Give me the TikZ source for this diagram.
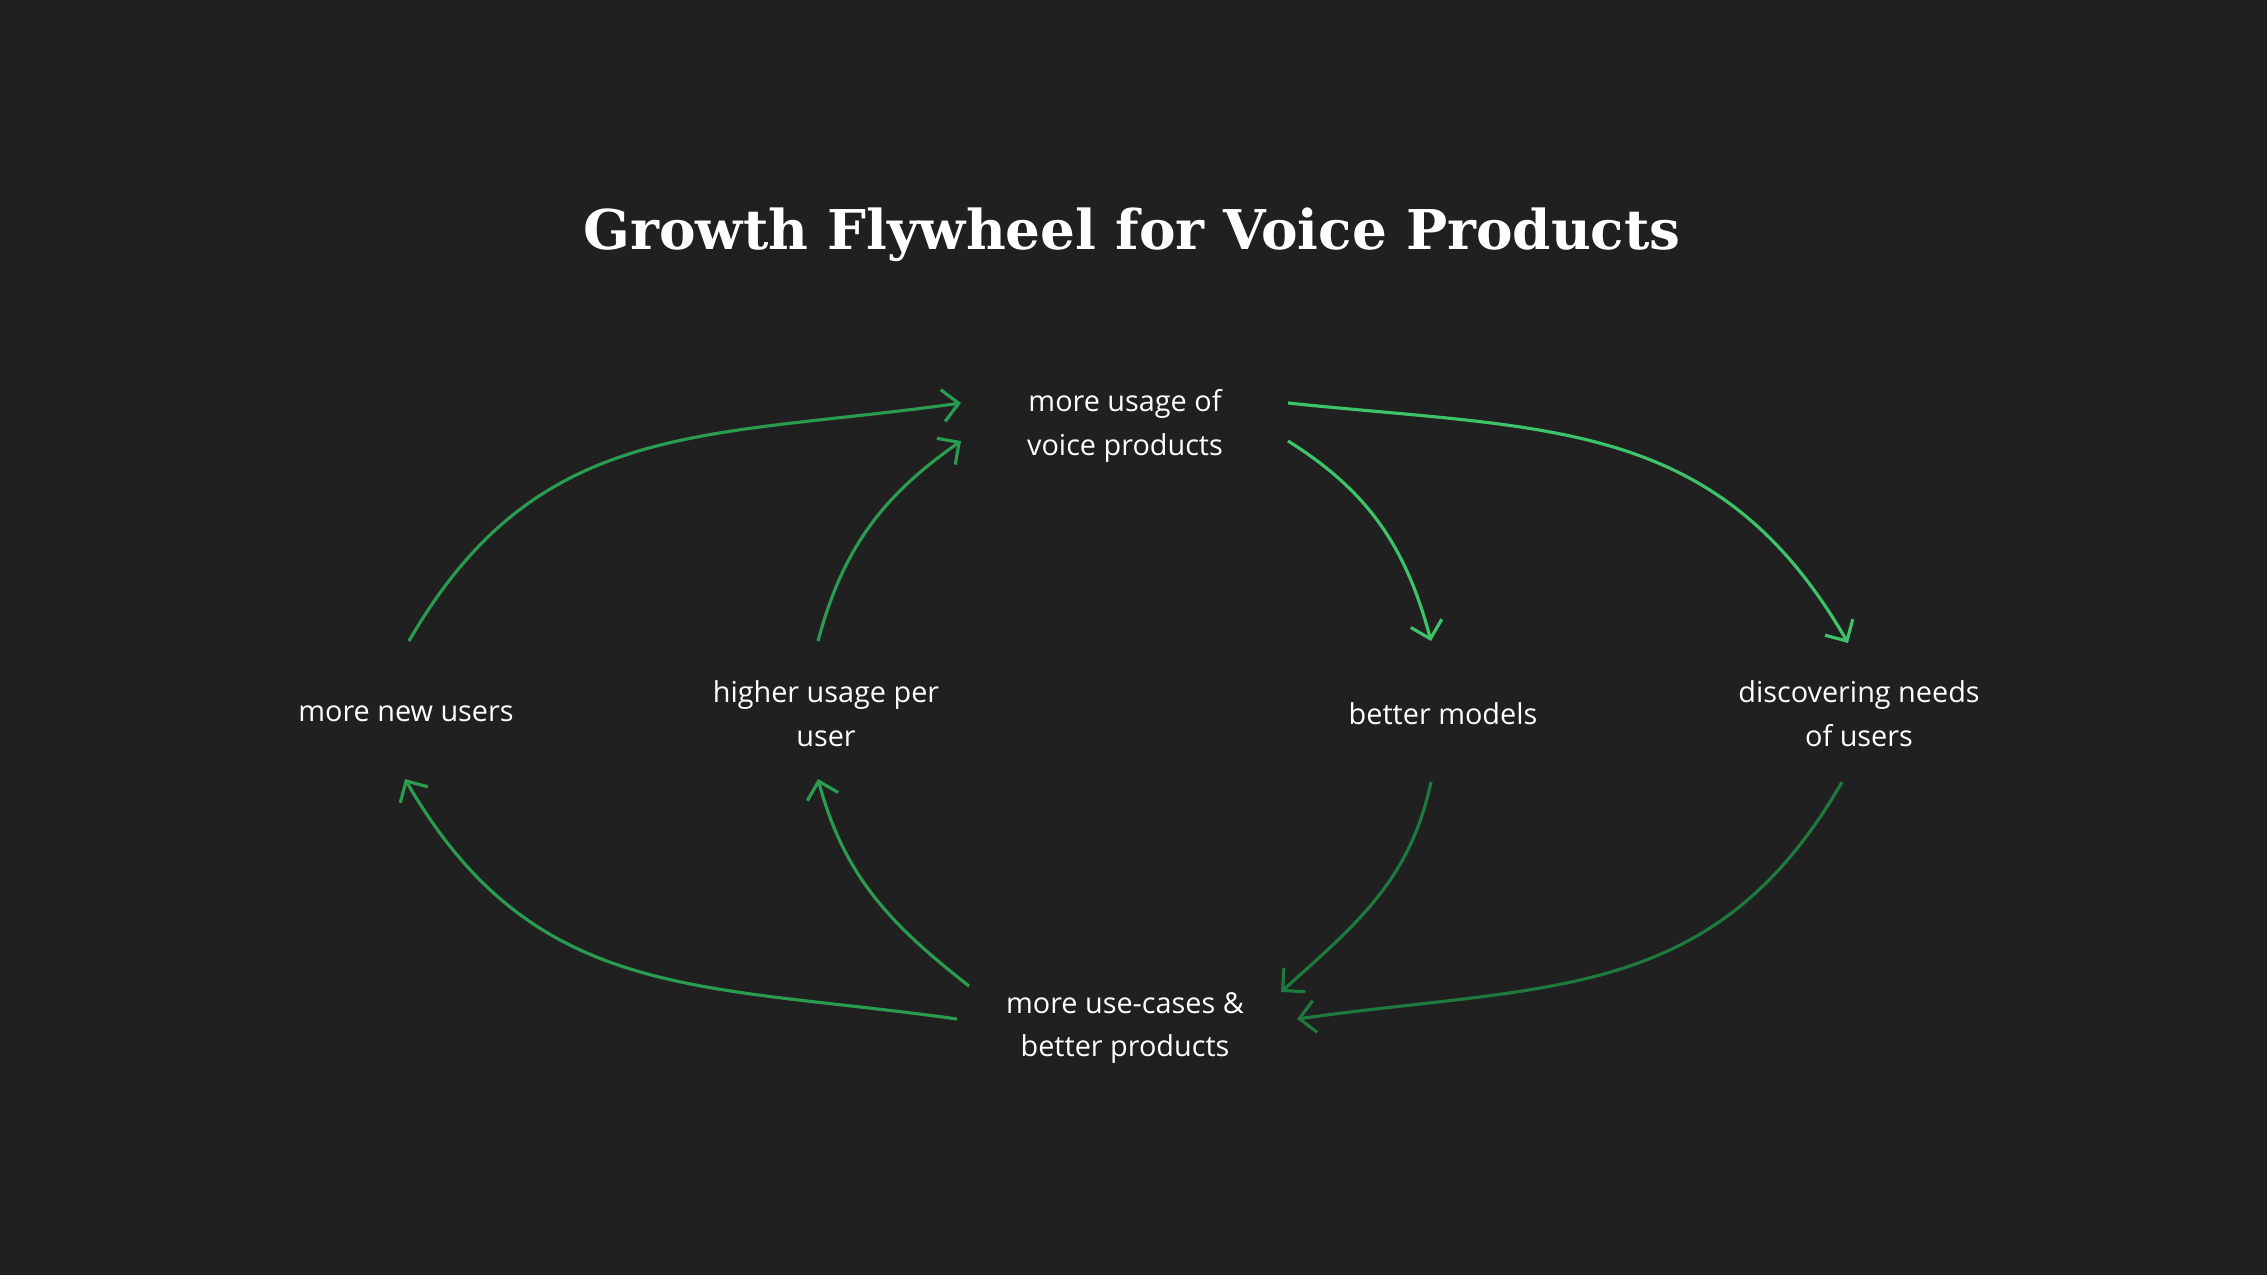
\documentclass[tikz,border=0pt]{standalone}
\usepackage{fontspec}
\setmainfont{Open Sans}
\newfontfamily\titlefont{DejaVu Serif}
\usetikzlibrary{arrows.meta}
\definecolor{bg}{HTML}{202020}
\definecolor{gbright}{HTML}{3DC46A}
\definecolor{gdark}{HTML}{1E7A3C}
\definecolor{gmid}{HTML}{2A9C50}
\tikzset{lbl/.style={text=white,align=center,font=\fontsize{8.2}{12.5}\selectfont},
  flow/.style={-{Straight Barb[length=1.6mm,width=3.2mm]},line width=0.9pt}}
\begin{document}
\begin{tikzpicture}

\fill [bg] (0,0) rectangle (22.67,12.75);
\node (title) at (11.32,10.40) [text=white,font=\titlefont\bfseries\fontsize{15.6}{19}\selectfont] {Growth Flywheel for Voice Products};
\node (usage) at (11.25,8.49) [lbl] {more usage of\\voice products};
\node (newusers) at (4.06,5.61) [lbl] {more new users};
\node (higher) at (8.26,5.61) [lbl] {higher usage per\\user};
\node (models) at (14.43,5.61) [lbl] {better models};
\node (needs) at (18.59,5.61) [lbl] {discovering needs\\of users};
\node (cases) at (11.25,2.47) [lbl] {more use-cases \&\\better products};
% end points of the connectors
\coordinate (u1) at (9.61,8.72);
\coordinate (u2) at (9.61,8.34);
\coordinate (u3) at (12.88,8.72);
\coordinate (u4) at (12.88,8.34);
\coordinate (n1) at (4.09,6.34);
\coordinate (n2) at (4.05,4.96);
\coordinate (h1) at (8.18,6.34);
\coordinate (h2) at (8.18,4.96);
\coordinate (m1) at (14.31,6.34);
\coordinate (m2) at (14.31,4.93);
\coordinate (d1) at (18.48,6.32);
\coordinate (d2) at (18.42,4.93);
\coordinate (c1) at (12.81,2.83);
\coordinate (c2) at (12.97,2.56);
\coordinate (c3) at (9.69,2.89);
\coordinate (c4) at (9.57,2.56);
\draw [flow,gmid] (n1) to[out=60,in=188,looseness=1.1] (u1);
\draw [flow,gmid] (h1) to[out=75,in=215] (u2);
\draw [flow,gbright] (u3) to[out=-6,in=120,looseness=1.1] (d1);
\draw [flow,gbright] (u4) to[out=-32,in=105] (m1);
\draw [flow,gdark] (m2) to[out=-102,in=42] (c1);
\draw [flow,gdark] (d2) to[out=-120,in=8,looseness=1.1] (c2);
\draw [flow,gmid] (c3) to[out=142,in=-75] (h2);
\draw [flow,gmid] (c4) to[out=172,in=-60,looseness=1.1] (n2);
\end{tikzpicture}
\end{document}
